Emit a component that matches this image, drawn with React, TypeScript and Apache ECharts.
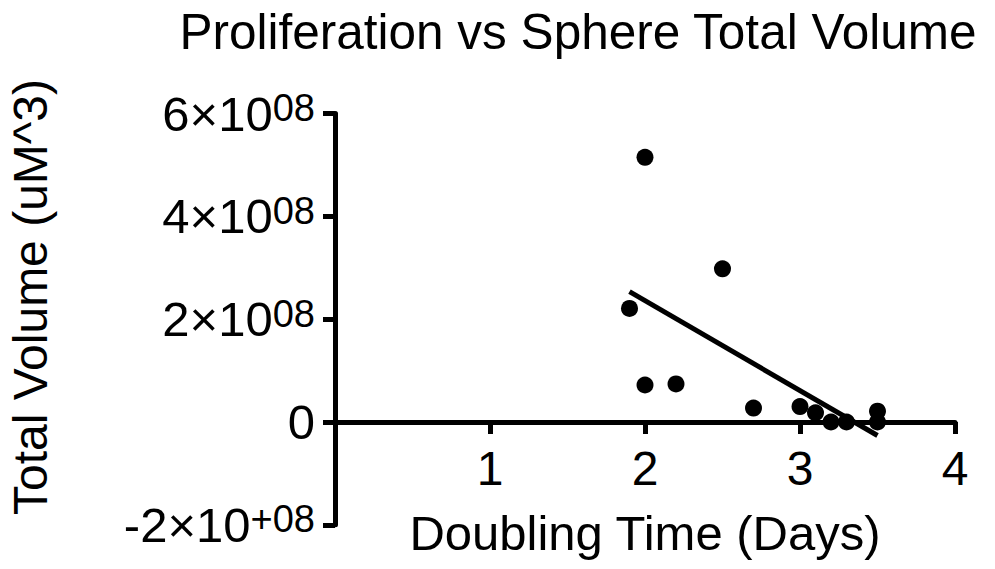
import React, { useEffect, useRef } from "react";
import * as echarts from "echarts";

const titleText = "Proliferation vs Sphere Total Volume";
const xAxisName = "Doubling Time (Days)";
const yAxisName = "Total Volume (uM^3)";

// Doubling time (days)
const doublingTime = [2.0, 2.5, 1.9, 2.0, 2.2, 2.7, 3.0, 3.1, 3.2, 3.3, 3.5, 3.5];
// Total volume (uM^3)
const totalVolume = [5.15e8, 2.98e8, 2.21e8, 0.72e8, 0.74e8, 0.27e8, 0.3e8, 0.18e8, 0.0, 0.0, 0.21e8, 0.0];

const xTicks = [0, 1, 2, 3, 4];
const yTicks = [-2e8, 0, 2e8, 4e8, 6e8];

const FONT = "'Liberation Sans', Arial, Helvetica, sans-serif";

function linearFit(xs: number[], ys: number[]) {
  const n = xs.length;
  const mx = xs.reduce((a, b) => a + b, 0) / n;
  const my = ys.reduce((a, b) => a + b, 0) / n;
  let sxy = 0;
  let sxx = 0;
  for (let i = 0; i < n; i++) {
    sxy += (xs[i] - mx) * (ys[i] - my);
    sxx += (xs[i] - mx) * (xs[i] - mx);
  }
  const slope = sxy / sxx;
  const intercept = my - slope * mx;
  const x0 = Math.min(...xs);
  const x1 = Math.max(...xs);
  return [
    [x0, intercept + slope * x0],
    [x1, intercept + slope * x1],
  ];
}

const GRID_TOP = 113.6;
const GRID_BOTTOM = 44.2;
const CHART_H = 569;

export default function App() {
  const ref = useRef<HTMLDivElement>(null);

  useEffect(() => {
    if (!ref.current) return;
    const chart = echarts.init(ref.current, undefined, { renderer: "svg" });
    const fitLine = linearFit(doublingTime, totalVolume);
    const points = doublingTime.map((x, i) => [x, totalVolume[i]]);

    // distance (px) from the grid bottom up to the zero line, where the x axis sits
    const gridH = CHART_H - GRID_TOP - GRID_BOTTOM;
    const yMin = yTicks[0];
    const yMax = yTicks[yTicks.length - 1];
    const zeroLift = (gridH * (0 - yMin)) / (yMax - yMin);

    chart.setOption({
      animation: false,
      backgroundColor: "#fff",
      title: {
        text: titleText,
        left: 578,
        top: 6,
        textAlign: "center",
        padding: 0,
        textStyle: { fontSize: 49.5, fontWeight: "normal", fontFamily: FONT, color: "#000" },
      },
      grid: {
        left: 335,
        right: 40,
        top: GRID_TOP,
        bottom: GRID_BOTTOM,
        containLabel: false,
        outerBoundsMode: "none",
      },
      xAxis: {
        type: "value",
        min: xTicks[0],
        max: xTicks[xTicks.length - 1],
        interval: 1,
        name: xAxisName,
        nameLocation: "middle",
        nameGap: -16,
        nameTextStyle: { fontSize: 49, fontFamily: FONT, color: "#000" },
        axisLine: { onZero: true, lineStyle: { color: "#000", width: 5 } },
        axisTick: { show: true, length: 12, lineStyle: { color: "#000", width: 5 } },
        axisLabel: {
          margin: 22 - zeroLift,
          fontSize: 48,
          fontFamily: FONT,
          color: "#000",
          formatter: (v: number) => (v === 0 ? "" : String(v)),
        },
        splitLine: { show: false },
      },
      yAxis: {
        type: "value",
        min: yMin,
        max: yMax,
        interval: 2e8,
        axisLine: { onZero: false, lineStyle: { color: "#000", width: 5 } },
        axisTick: { show: true, length: 12, lineStyle: { color: "#000", width: 5 } },
        axisLabel: {
          margin: 20,
          color: "#000",
          fontFamily: FONT,
          fontSize: 48,
          formatter: (v: number) => {
            if (v === 0) return "{b|0}";
            const m = Math.round(v / 1e8);
            return `{b|${m}×10}{s|${v < 0 ? "+" : ""}08}`;
          },
          rich: {
            b: { fontSize: 49, fontFamily: FONT, color: "#000", lineHeight: 49 },
            s: { fontSize: 38, fontFamily: FONT, color: "#000", verticalAlign: "top", lineHeight: 38 },
          },
        },
        splitLine: { show: false },
      },
      graphic: [
        {
          type: "text",
          x: 30,
          y: 297,
          rotation: Math.PI / 2,
          style: {
            text: yAxisName,
            fontSize: 48,
            fontFamily: FONT,
            fill: "#000",
            textAlign: "center",
            textVerticalAlign: "middle",
          },
        },
      ],
      series: [
        {
          type: "scatter",
          data: points,
          symbol: "circle",
          symbolSize: 17,
          itemStyle: { color: "#000", opacity: 1 },
          z: 3,
        },
        {
          type: "line",
          data: fitLine,
          showSymbol: false,
          symbol: "none",
          lineStyle: { color: "#000", width: 5 },
          z: 4,
        },
      ],
    });
    return () => chart.dispose();
  }, []);

  return <div ref={ref} style={{ position: "fixed", left: 0, top: 0, width: 995, height: 569 }} />;
}
